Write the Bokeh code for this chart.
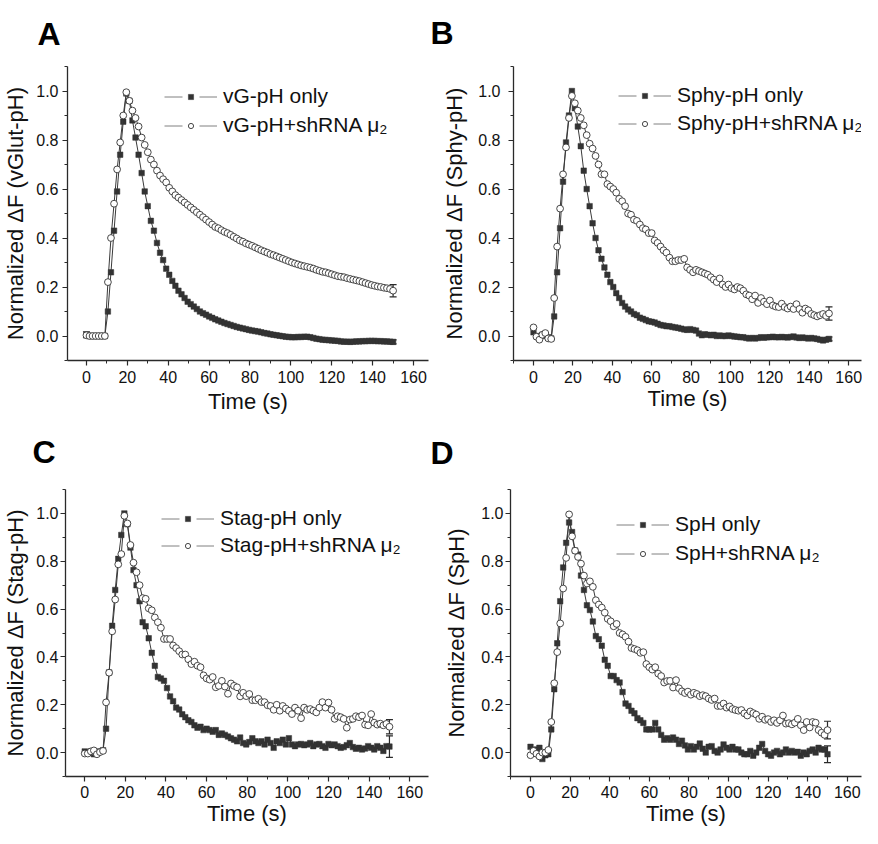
from bokeh.plotting import figure
from bokeh.models import (ColumnDataSource, Legend, LegendItem, Whisker, TeeHead, Title,
                          SingleIntervalTicker, PrintfTickFormatter, Range1d)
from bokeh.layouts import column, row
from bokeh.embed import file_html
from bokeh.resources import INLINE

# ---------------- data ----------------
TIME = [0, 1.5, 3, 4.5, 6, 7.5, 9, 10.5, 12, 13.5, 15, 16.5, 18, 19.5, 21, 22.5, 24, 25.5, 27, 28.5,
        30, 31.5, 33, 34.5, 36, 37.5, 39, 40.5, 42, 43.5, 45, 46.5, 48, 49.5, 51, 52.5, 54, 55.5, 57, 58.5,
        60, 61.5, 63, 64.5, 66, 67.5, 69, 70.5, 72, 73.5, 75, 76.5, 78, 79.5, 81, 82.5, 84, 85.5, 87, 88.5,
        90, 91.5, 93, 94.5, 96, 97.5, 99, 100.5, 102, 103.5, 105, 106.5, 108, 109.5, 111, 112.5, 114, 115.5,
        117, 118.5, 120, 121.5, 123, 124.5, 126, 127.5, 129, 130.5, 132, 133.5, 135, 136.5, 138, 139.5,
        141, 142.5, 144, 145.5, 147, 148.5, 150]

A_ONLY = [0.005, 0.0, 0.0, 0.0, 0.0, 0.0, 0.0, 0.10, 0.26, 0.43, 0.59, 0.74, 0.875, 0.99, 0.96, 0.88, 0.81,
          0.74, 0.665, 0.59, 0.53, 0.47, 0.43, 0.38, 0.34, 0.31, 0.275, 0.25, 0.225, 0.205, 0.185, 0.17,
          0.155, 0.14, 0.13, 0.12, 0.11, 0.10, 0.093, 0.087, 0.08, 0.074, 0.068, 0.063, 0.058, 0.053, 0.049,
          0.045, 0.041, 0.037, 0.034, 0.031, 0.028, 0.025, 0.022, 0.02, 0.018, 0.015, 0.012, 0.01, 0.007,
          0.005, 0.003, 0.001, -0.001, -0.003, -0.004, -0.005, -0.005, -0.004, -0.004, -0.003, -0.003,
          -0.005, -0.008, -0.011, -0.013, -0.015, -0.016, -0.017, -0.018, -0.019, -0.02, -0.022, -0.023,
          -0.023, -0.024, -0.023, -0.022, -0.022, -0.021, -0.021, -0.02, -0.02, -0.02, -0.021, -0.021,
          -0.022, -0.022, -0.023, -0.024]
A_SH = [0.003, 0.0, 0.0, 0.0, 0.0, 0.0, 0.0, 0.22, 0.40, 0.54, 0.68, 0.79, 0.90, 0.995, 0.96, 0.92, 0.89,
        0.855, 0.81, 0.78, 0.75, 0.72, 0.70, 0.675, 0.655, 0.64, 0.627, 0.605, 0.59, 0.575, 0.565, 0.555,
        0.545, 0.535, 0.525, 0.515, 0.505, 0.495, 0.485, 0.475, 0.465, 0.455, 0.445, 0.44, 0.432, 0.425,
        0.42, 0.413, 0.405, 0.398, 0.39, 0.385, 0.378, 0.373, 0.368, 0.362, 0.356, 0.35, 0.345, 0.34,
        0.334, 0.33, 0.325, 0.32, 0.315, 0.31, 0.305, 0.30, 0.296, 0.292, 0.288, 0.285, 0.282, 0.279,
        0.275, 0.27, 0.266, 0.262, 0.26, 0.256, 0.252, 0.248, 0.244, 0.242, 0.24, 0.236, 0.233, 0.23,
        0.227, 0.224, 0.22, 0.216, 0.212, 0.208, 0.205, 0.202, 0.2, 0.197, 0.195, 0.192, 0.185]

B_ONLY = [0.015, 0.0, -0.005, 0.005, 0.0, -0.005, -0.01, 0.08, 0.26, 0.44, 0.63, 0.79, 0.90, 1.0, 0.93,
          0.855, 0.775, 0.675, 0.60, 0.53, 0.46, 0.40, 0.35, 0.315, 0.28, 0.25, 0.22, 0.20, 0.175, 0.155,
          0.135, 0.12, 0.108, 0.10, 0.09, 0.085, 0.075, 0.07, 0.065, 0.06, 0.058, 0.055, 0.05, 0.045,
          0.043, 0.04, 0.04, 0.037, 0.035, 0.033, 0.03, 0.027, 0.025, 0.028, 0.025, 0.022, 0.01, 0.003,
          0.007, 0.005, 0.003, 0.005, 0.0, 0.002, 0.0, 0.0, 0.002, 0.0, -0.002, -0.003, -0.005, -0.005,
          -0.008, -0.01, -0.008, -0.01, -0.008, -0.005, -0.007, -0.005, -0.005, -0.003, -0.005, -0.005,
          -0.004, -0.005, -0.006, -0.004, -0.002, -0.006, -0.008, -0.006, -0.008, -0.01, -0.008, -0.01,
          -0.012, -0.015, -0.018, -0.015, -0.012]
B_SH = [0.035, -0.003, -0.015, 0.005, 0.012, -0.01, -0.012, 0.155, 0.365, 0.52, 0.66, 0.77, 0.89, 0.98,
        0.95, 0.92, 0.89, 0.86, 0.82, 0.785, 0.765, 0.735, 0.70, 0.66, 0.66, 0.62, 0.61, 0.60, 0.585, 0.56,
        0.55, 0.53, 0.50, 0.495, 0.475, 0.47, 0.455, 0.44, 0.435, 0.42, 0.42, 0.39, 0.38, 0.365, 0.35,
        0.34, 0.32, 0.305, 0.305, 0.31, 0.31, 0.315, 0.28, 0.27, 0.26, 0.27, 0.265, 0.26, 0.255, 0.25,
        0.24, 0.23, 0.22, 0.235, 0.21, 0.20, 0.21, 0.195, 0.19, 0.20, 0.195, 0.185, 0.17, 0.165, 0.15,
        0.165, 0.135, 0.155, 0.14, 0.13, 0.145, 0.125, 0.12, 0.118, 0.132, 0.118, 0.112, 0.12, 0.11, 0.13,
        0.11, 0.095, 0.112, 0.105, 0.09, 0.085, 0.08, 0.085, 0.09, 0.082, 0.092]

C_ONLY = [0.005, 0.0, 0.005, -0.007, 0.0, 0.005, 0.01, 0.10, 0.335, 0.53, 0.68, 0.81, 0.91, 1.0, 0.955,
          0.857, 0.763, 0.70, 0.633, 0.545, 0.528, 0.478, 0.417, 0.363, 0.316, 0.31, 0.30, 0.27, 0.235,
          0.215, 0.188, 0.18, 0.16, 0.148, 0.135, 0.128, 0.114, 0.104, 0.108, 0.094, 0.10, 0.094, 0.087,
          0.094, 0.074, 0.08, 0.074, 0.067, 0.06, 0.054, 0.047, 0.063, 0.04, 0.034, 0.044, 0.06, 0.047,
          0.04, 0.047, 0.034, 0.054, 0.04, 0.02, 0.047, 0.04, 0.054, 0.034, 0.06, 0.034, 0.027, 0.034,
          0.036, 0.031, 0.034, 0.04, 0.027, 0.034, 0.036, 0.027, 0.02, 0.036, 0.031, 0.034, 0.027, 0.02,
          0.023, 0.031, 0.04, 0.023, 0.016, 0.02, 0.013, 0.017, 0.027, 0.02, 0.013, 0.027, 0.02, 0.007,
          0.027, 0.025]
C_SH = [-0.004, -0.004, 0.005, 0.009, -0.007, 0.002, 0.007, 0.21, 0.334, 0.507, 0.64, 0.787, 0.83, 0.99,
        0.958, 0.868, 0.794, 0.754, 0.70, 0.646, 0.643, 0.603, 0.595, 0.565, 0.545, 0.522, 0.475, 0.475,
        0.475, 0.448, 0.437, 0.424, 0.41, 0.41, 0.39, 0.37, 0.38, 0.363, 0.357, 0.323, 0.31, 0.305, 0.316,
        0.273, 0.279, 0.30, 0.276, 0.246, 0.289, 0.279, 0.273, 0.235, 0.25, 0.236, 0.245, 0.219, 0.219,
        0.225, 0.211, 0.211, 0.198, 0.195, 0.179, 0.20, 0.175, 0.195, 0.184, 0.175, 0.161, 0.188, 0.175,
        0.144, 0.188, 0.179, 0.182, 0.175, 0.168, 0.188, 0.211, 0.188, 0.209, 0.179, 0.141, 0.152, 0.148,
        0.141, 0.104, 0.138, 0.141, 0.152, 0.148, 0.155, 0.117, 0.114, 0.161, 0.125, 0.117, 0.121, 0.114,
        0.12, 0.108]

D_ONLY = [0.024, 0.01, 0.013, 0.02, -0.027, -0.011, -0.007, 0.097, 0.265, 0.457, 0.633, 0.774, 0.877,
          0.962, 0.922, 0.845, 0.828, 0.74, 0.68, 0.616, 0.596, 0.548, 0.487, 0.474, 0.447, 0.388, 0.363,
          0.32, 0.32, 0.303, 0.293, 0.253, 0.205, 0.195, 0.175, 0.164, 0.144, 0.135, 0.124, 0.097, 0.097,
          0.097, 0.124, 0.097, 0.074, 0.054, 0.06, 0.054, 0.063, 0.054, 0.036, 0.05, 0.03, 0.013, 0.027,
          0.013, 0.024, 0.038, 0.016, 0.0, 0.024, 0.027, 0.007, 0.0, 0.013, 0.034, 0.02, 0.013, 0.024,
          0.013, 0.013, 0.0, -0.007, -0.007, 0.007, -0.013, 0.0, 0.02, 0.036, 0.007, -0.007, -0.013, 0.0,
          0.007, -0.007, 0.0, 0.013, 0.0, 0.007, 0.0, 0.003, -0.013, 0.0, -0.007, 0.007, 0.013, 0.0, 0.02,
          0.013, 0.013, -0.007]
D_SH = [-0.011, 0.007, -0.005, -0.016, 0.0, 0.0, 0.011, 0.128, 0.29, 0.42, 0.54, 0.686, 0.814, 0.996,
        0.904, 0.844, 0.818, 0.79, 0.74, 0.707, 0.716, 0.693, 0.637, 0.619, 0.606, 0.585, 0.559, 0.549,
        0.528, 0.538, 0.50, 0.494, 0.484, 0.464, 0.437, 0.433, 0.428, 0.417, 0.42, 0.37, 0.357, 0.347,
        0.357, 0.33, 0.32, 0.293, 0.299, 0.30, 0.272, 0.303, 0.269, 0.256, 0.249, 0.255, 0.242, 0.25,
        0.245, 0.236, 0.24, 0.236, 0.226, 0.22, 0.226, 0.195, 0.195, 0.205, 0.188, 0.193, 0.182, 0.178,
        0.175, 0.178, 0.164, 0.155, 0.172, 0.165, 0.159, 0.141, 0.15, 0.137, 0.14, 0.128, 0.135, 0.124,
        0.135, 0.155, 0.121, 0.123, 0.118, 0.125, 0.141, 0.114, 0.094, 0.128, 0.105, 0.128, 0.125, 0.094,
        0.083, 0.074, 0.094]

# error bars: index of the point and its half-height
A_ERR_ONLY_IDX, A_ERR_ONLY = [0, 100], [0.012, 0.008]
A_ERR_SH_IDX, A_ERR_SH = [100], [0.025]
B_ERR_ONLY_IDX, B_ERR_ONLY = [100], [0.008]
B_ERR_SH_IDX, B_ERR_SH = [100], [0.027]
C_ERR_ONLY_IDX, C_ERR_ONLY = [100], [0.045]
C_ERR_SH_IDX, C_ERR_SH = [100], [0.03]
D_ERR_ONLY_IDX, D_ERR_ONLY = [100], [0.035]
D_ERR_SH_IDX, D_ERR_SH = [100], [0.037]

FONT = "Liberation Sans"
DARK = "#2a2a2a"
LINE = "#3a3a3a"


def panel(letter, ylabel, lab_only, lab_sh, only, sh, eo_idx, eo, es_idx, es, cfg):
    W, H = cfg["W"], cfg["H"]
    fl, fr, ft, fb = cfg["frame"]
    x0, sx = cfg["x0"], cfg["sx"]
    x1 = x0 + (fr - fl) / sx
    p = figure(width=W, height=H, output_backend="svg", toolbar_location=None, tools="",
               title=None,
               x_range=Range1d(x0, x1), y_range=Range1d(-0.1, 1.1),
               min_border_left=fl, min_border_right=W - fr,
               min_border_top=ft, min_border_bottom=H - fb)
    p.outline_line_color = None
    p.grid.visible = False
    p.background_fill_color = "white"
    p.border_fill_color = "white"

    # panel letter, top-aligned in the space above the frame
    p.add_layout(Title(text=letter, align="left", vertical_align="top",
                       offset=cfg["toff"], standoff=cfg["tst"],
                       text_font=FONT, text_font_size="32px", text_font_style="bold",
                       text_color="#000000"), "above")

    src_o = ColumnDataSource(dict(t=TIME, y=only))
    src_s = ColumnDataSource(dict(t=TIME, y=sh))

    p.line("t", "y", source=src_o, line_color=LINE, line_width=1)
    r_sq = p.scatter("t", "y", source=src_o, marker="square", size=5.5,
                     fill_color="#333333", line_color="#333333", line_width=0.5)
    p.line("t", "y", source=src_s, line_color=LINE, line_width=1)
    r_ci = p.scatter("t", "y", source=src_s, marker="circle", size=6.8,
                     fill_color="white", line_color="#333333", line_width=0.9)

    for idx, err, ser in ((eo_idx, eo, only), (es_idx, es, sh)):
        esrc = ColumnDataSource(dict(base=[TIME[i] for i in idx],
                                     upper=[ser[i] + e for i, e in zip(idx, err)],
                                     lower=[ser[i] - e for i, e in zip(idx, err)]))
        p.add_layout(Whisker(source=esrc, base="base", upper="upper", lower="lower",
                             line_color=DARK, line_width=1.2,
                             upper_head=TeeHead(size=7, line_color=DARK, line_width=1.2),
                             lower_head=TeeHead(size=7, line_color=DARK, line_width=1.2)))

    # axes
    xa, ya = p.xaxis[0], p.yaxis[0]
    xa.ticker = SingleIntervalTicker(interval=20, num_minor_ticks=2)
    ya.ticker = SingleIntervalTicker(interval=0.2, num_minor_ticks=2)
    ya.formatter = PrintfTickFormatter(format="%.1f")
    for ax in (xa, ya):
        ax.axis_line_color = DARK
        ax.axis_line_width = 1.3
        ax.major_tick_line_color = DARK
        ax.minor_tick_line_color = DARK
        ax.major_tick_line_width = 1.2
        ax.minor_tick_line_width = 1.0
        ax.major_tick_out = 5
        ax.major_tick_in = 0
        ax.minor_tick_out = 3
        ax.minor_tick_in = 0
        ax.major_label_text_font = FONT
        ax.major_label_text_font_size = "16px"
        ax.major_label_text_color = "#111111"
        ax.axis_label_text_font = FONT
        ax.axis_label_text_font_size = "22px"
        ax.axis_label_text_font_style = "normal"
        ax.axis_label_text_color = "#111111"
    xa.axis_label = "Time (s)"
    ya.axis_label = ylabel
    xa.major_label_standoff = cfg["xls"]
    xa.axis_label_standoff = cfg["xas"]
    ya.major_label_standoff = cfg["yls"]
    ya.axis_label_standoff = cfg["yas"]

    # legend: gapped grey line (hidden renderer sharing the data) + the marker
    leg_o = p.line("t", "y", source=src_o, line_color="#808080", line_width=1,
                   line_dash="18 17", visible=False)
    leg_s = p.line("t", "y", source=src_s, line_color="#808080", line_width=1,
                   line_dash="18 17", visible=False)
    lg = Legend(items=[LegendItem(label=lab_only, renderers=[leg_o, r_sq]),
                       LegendItem(label=lab_sh, renderers=[leg_s, r_ci])],
                location=cfg["leg"], orientation="vertical",
                glyph_width=53, glyph_height=13, label_height=20, label_standoff=6,
                spacing=cfg["lsp"], padding=0, margin=0,
                border_line_alpha=0, background_fill_alpha=0,
                label_text_font=FONT, label_text_font_size="21px",
                label_text_color="#111111")
    p.add_layout(lg)
    return p


cfgA = dict(W=429, H=416, frame=(66, 428, 64, 361), x0=-9.27, sx=2.05, toff=-30, tst=26,
            xls=5, xas=3, yls=4, yas=5, leg=(97, 223), lsp=5)
cfgB = dict(W=433, H=416, frame=(84, 432, 66, 362), x0=-10.15, sx=1.97, toff=-83, tst=28,
            xls=5, xas=0, yls=8, yas=8, leg=(105, 225), lsp=4)
cfgC = dict(W=429, H=412, frame=(64, 428, 73, 362), x0=-9.47, sx=2.037, toff=-33, tst=35,
            xls=4, xas=0, yls=2, yas=5, leg=(96, 219), lsp=3)
cfgD = dict(W=433, H=412, frame=(81, 432, 71, 360), x0=-10.1, sx=1.98, toff=-80, tst=33,
            xls=4, xas=0, yls=2, yas=9, leg=(106, 211), lsp=5)

MU2 = "\u03bc\u2082"
pA = panel("A", "Normalized \u0394F (vGlut-pH)", "vG-pH only", "vG-pH+shRNA " + MU2,
           A_ONLY, A_SH, A_ERR_ONLY_IDX, A_ERR_ONLY, A_ERR_SH_IDX, A_ERR_SH, cfgA)
pB = panel("B", "Normalized \u0394F (Sphy-pH)", "Sphy-pH only", "Sphy-pH+shRNA " + MU2,
           B_ONLY, B_SH, B_ERR_ONLY_IDX, B_ERR_ONLY, B_ERR_SH_IDX, B_ERR_SH, cfgB)
pC = panel("C", "Normalized \u0394F (Stag-pH)", "Stag-pH only", "Stag-pH+shRNA " + MU2,
           C_ONLY, C_SH, C_ERR_ONLY_IDX, C_ERR_ONLY, C_ERR_SH_IDX, C_ERR_SH, cfgC)
pD = panel("D", "Normalized \u0394F (SpH)", "SpH only", "SpH+shRNA " + MU2,
           D_ONLY, D_SH, D_ERR_ONLY_IDX, D_ERR_ONLY, D_ERR_SH_IDX, D_ERR_SH, cfgD)

layout = column(row(pA, pB, spacing=0), row(pC, pD, spacing=0), spacing=0)
open("out.html", "w").write(file_html(layout, INLINE))
